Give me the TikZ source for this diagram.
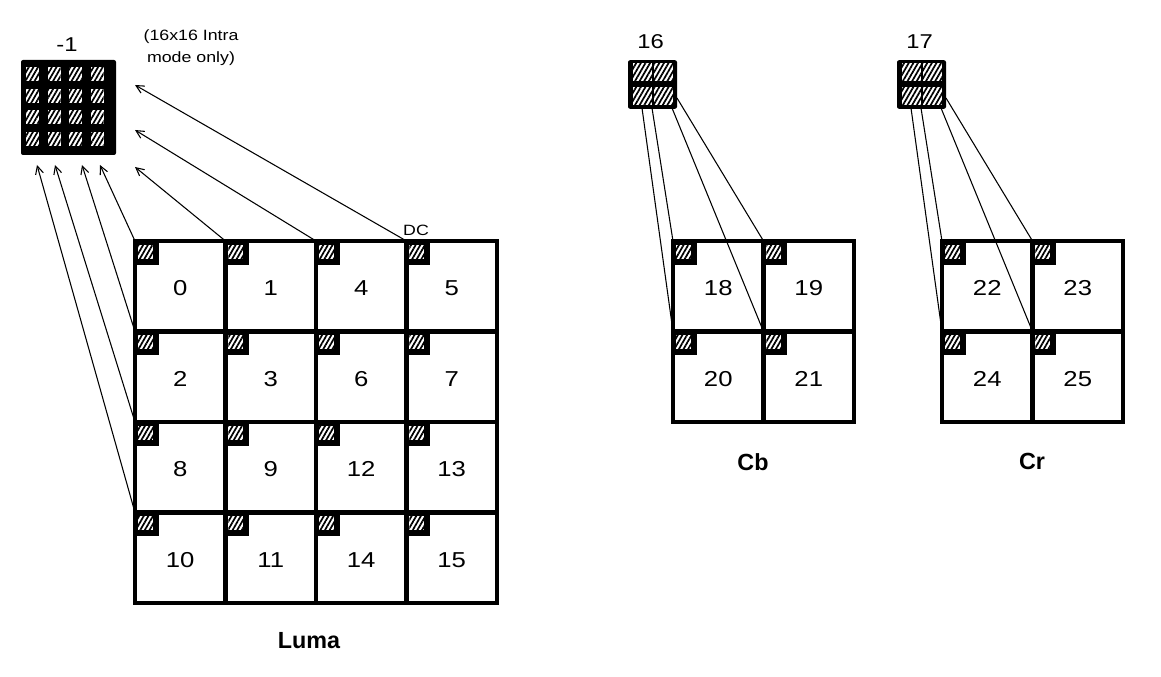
\documentclass[tikz,border=0pt]{standalone}
\usepackage{fontspec}
\setmainfont{Liberation Sans}
\newfontfamily\widefont{Liberation Sans}[FakeStretch=1.19]
\usetikzlibrary{arrows.meta,patterns.meta,calc}

\begin{document}
\begin{tikzpicture}[
    x=0.75pt, y=-0.75pt,
    hatchfill/.style={fill=white, postaction={pattern={Lines[angle=60,distance=3pt,line width=1.3pt]}}},
    cell/.style={rectangle, draw, line width=3.2pt, minimum size=67.9pt, inner sep=0pt, outer sep=0pt,
        font=\widefont\fontsize{16.2}{18}\selectfont, text height=14.6pt, text depth=0pt,
        path picture={
            \fill (path picture bounding box.north west) rectangle ++(24,24);
            \path[hatchfill] ($(path picture bounding box.north west)+(3,4)$) rectangle ++(15,14);
        }},
    dcblock/.style={rectangle, fill=black, rounded corners=1.5pt, inner sep=0pt, outer sep=0pt},
    pred/.style={-{Straight Barb[length=6pt,width=6pt]}, line width=0.8pt},
    link/.style={line width=0.8pt},
    title/.style={font=\bfseries\fontsize{17.5}{20}\selectfont},
    blkid/.style={font=\widefont\fontsize{15}{17}\selectfont}
]
    \useasboundingbox (0,0) rectangle (1161,677);

    % DC blocks
    \node[dcblock, minimum size=71.25pt] (lumadc) at (68.5,107.5) {};
    \foreach \i in {0,...,3}
        \foreach \j in {0,...,3}
            \path[hatchfill] ($(lumadc.north west)+(5+21.5*\i,7.5+21.5*\j)$) rectangle ++(13,14);
    \node[dcblock, minimum width=36.75pt, minimum height=36.4pt] (cbdc) at (652.5,84.5) {};
    \node[dcblock, minimum width=36.75pt, minimum height=36.4pt] (crdc) at (921.5,84.5) {};
    \foreach \b in {cbdc,crdc}
        \foreach \i in {0,1}
            \foreach \j in {0,1}
                \path[hatchfill] ($(\b.north west)+(5+21*\i,3+24*\j)$) rectangle ++(19,18);

    % Labels
    \node[blkid] (lumaid) at (67,45) {-1};
    \node[font=\widefont\fontsize{11.2}{16.5}\selectfont, align=center] (intra) at (191,48) {(16x16 Intra\\mode only)};
    \node[font=\widefont\fontsize{11.2}{13}\selectfont] (dclabel) at (416,230) {DC};
    \node[blkid] (cbid) at (650.5,42) {16};
    \node[blkid] (crid) at (919.5,42) {17};

    % Luma
    \node[cell] (c0) at (180.25,286.25) {0};
    \node[cell] (c1) at (270.75,286.25) {1};
    \node[cell] (c4) at (361.25,286.25) {4};
    \node[cell] (c5) at (451.75,286.25) {5};
    \node[cell] (c2) at (180.25,376.75) {2};
    \node[cell] (c3) at (270.75,376.75) {3};
    \node[cell] (c6) at (361.25,376.75) {6};
    \node[cell] (c7) at (451.75,376.75) {7};
    \node[cell] (c8) at (180.25,467.25) {8};
    \node[cell] (c9) at (270.75,467.25) {9};
    \node[cell] (c12) at (361.25,467.25) {12};
    \node[cell] (c13) at (451.75,467.25) {13};
    \node[cell] (c10) at (180.25,557.75) {10};
    \node[cell] (c11) at (270.75,557.75) {11};
    \node[cell] (c14) at (361.25,557.75) {14};
    \node[cell] (c15) at (451.75,557.75) {15};
    \node[title] (luma) at (309,641) {Luma};

    % Cb
    \node[cell] (c18) at (718.25,286.25) {18};
    \node[cell] (c19) at (808.75,286.25) {19};
    \node[cell] (c20) at (718.25,376.75) {20};
    \node[cell] (c21) at (808.75,376.75) {21};
    \node[title] (cb) at (753,462) {Cb};

    % Cr
    \node[cell] (c22) at (987.25,286.25) {22};
    \node[cell] (c23) at (1077.75,286.25) {23};
    \node[cell] (c24) at (987.25,376.75) {24};
    \node[cell] (c25) at (1077.75,376.75) {25};
    \node[title] (cr) at (1032,461) {Cr};

    % Luma DC arrows
    \coordinate (p10) at (37,165);
    \coordinate (p8) at (55,165);
    \coordinate (p2) at (82,165);
    \coordinate (p0) at (100,165);
    \coordinate (p1) at (135,167);
    \coordinate (p4) at (135,130);
    \coordinate (p5) at (135,85);
    \draw[pred] (c10.north west) -- (p10);
    \draw[pred] (c8.north west) -- (p8);
    \draw[pred] (c2.north west) -- (p2);
    \draw[pred] (c0.north west) -- (p0);
    \draw[pred] (c1.north west) -- (p1);
    \draw[pred] (c4.north west) -- (p4);
    \draw[pred] (c5.north west) -- (p5);

    % Chroma DC links
    \coordinate (q20) at (642,108);
    \coordinate (q18) at (652,108);
    \coordinate (q21) at (672,108);
    \coordinate (q19) at (677,98);
    \draw[link] (q20) -- (c20.north west);
    \draw[link] (q18) -- (c18.north west);
    \draw[link] (q21) -- (c21.north west);
    \draw[link] (q19) -- (c19.north west);
    \coordinate (q24) at (911,108);
    \coordinate (q22) at (921,108);
    \coordinate (q25) at (941,108);
    \coordinate (q23) at (946,98);
    \draw[link] (q24) -- (c24.north west);
    \draw[link] (q22) -- (c22.north west);
    \draw[link] (q25) -- (c25.north west);
    \draw[link] (q23) -- (c23.north west);

\end{tikzpicture}
\end{document}
